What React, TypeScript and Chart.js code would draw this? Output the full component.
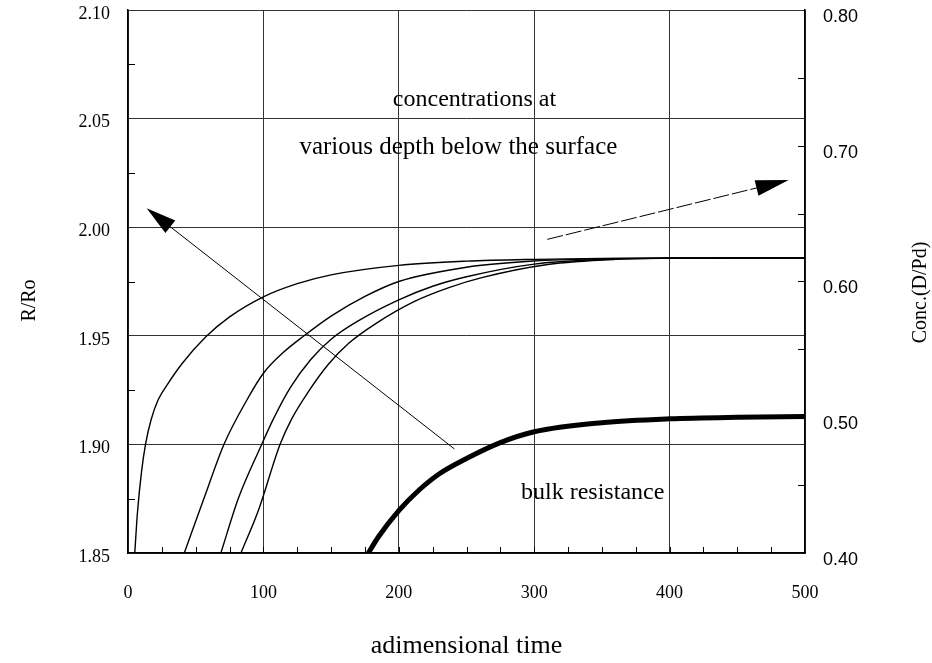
import React, { useEffect, useRef } from "react";
import { Chart, registerables } from "chart.js";

Chart.register(...registerables);

// ---- axis ranges / ticks ----
const xMin = 0;
const xMax = 500;
const xStep = 100;
const xMinorStep = 25;
const leftMin = 1.85;
const leftMax = 2.1;
const leftStep = 0.05;
const rightMin = 0.4;
const rightMax = 0.8;
const rightStep = 0.1;
const rightMinorStep = 0.05;

// ---- concentration curves (right axis, Conc.(D/Pd)) ----
const conc1X = [5, 7, 10, 13, 17, 22.2, 30, 40, 57.7, 75, 100, 125, 150, 200, 250, 300, 350, 400, 500];
const conc1Y = [0.4, 0.43, 0.46, 0.4803, 0.498, 0.5127, 0.5255, 0.5396, 0.5594, 0.5739, 0.5887, 0.5984, 0.6049, 0.6119, 0.615, 0.6163, 0.6169, 0.6171, 0.6173];

const conc2X = [41.6, 56.2, 71, 87.8, 100, 115, 130, 150, 175, 200, 250, 300, 350, 400, 500];
const conc2Y = [0.4, 0.4405, 0.4803, 0.5127, 0.5324, 0.548, 0.56, 0.5745, 0.589, 0.6, 0.6105, 0.6151, 0.6168, 0.6173, 0.6173];

const conc3X = [68.6, 81.6, 98.9, 107.5, 120, 135, 150, 170, 200, 225, 250, 300, 350, 400, 500];
const conc3Y = [0.4, 0.4405, 0.4803, 0.499, 0.522, 0.5425, 0.5575, 0.571, 0.5865, 0.5965, 0.6035, 0.6128, 0.6162, 0.6172, 0.6173];

const conc4X = [83.4, 96, 112.4, 121, 133, 148, 163, 183, 212, 237, 262, 310, 360, 410, 500];
const conc4Y = [0.4, 0.4305, 0.4803, 0.499, 0.5185, 0.539, 0.5545, 0.569, 0.5855, 0.5955, 0.603, 0.6125, 0.6163, 0.6172, 0.6173];

// ---- bulk resistance (left axis, R/Ro) ----
const bulkX = [177.5, 185, 200, 215, 230, 250, 275, 300, 350, 400, 450, 500];
const bulkY = [1.85, 1.8575, 1.8695, 1.879, 1.8865, 1.8935, 1.9008, 1.9058, 1.91, 1.9118, 1.9125, 1.9128];

// ---- annotations (data coords on x / left axis) ----
const arrow1Tail = [241.1, 1.8979];
const arrow1Tip = [13.8, 2.0087];
const arrow2Tail = [309.7, 1.9944];
const arrow2Tip = [487.9, 2.0217];
const labelTexts = ["concentrations at", "various depth below the surface", "bulk resistance"];
const labelSizes = [24, 25, 24];
const labelPos = [
  [255.9, 2.0586],
  [244, 2.0369],
  [343.2, 1.8776],
];

const SERIF = "'Liberation Serif', 'Times New Roman', serif";
const SANS = "'Liberation Sans', Arial, sans-serif";

const toPts = (xs: number[], ys: number[]) => xs.map((x, i) => ({ x, y: ys[i] }));

const overlayPlugin = {
  id: "overlay",
  afterDraw(chart: any) {
    const { ctx, chartArea, scales } = chart;
    const xs = scales.x;
    const yl = scales.y;
    const yr = scales.y1;
    ctx.save();
    ctx.strokeStyle = "#000";
    ctx.lineWidth = 1;
    // minor ticks (inward)
    ctx.beginPath();
    for (let v = xMin + xMinorStep; v < xMax; v += xMinorStep) {
      const px = Math.round(xs.getPixelForValue(v)) + 0.5;
      ctx.moveTo(px, chartArea.bottom);
      ctx.lineTo(px, chartArea.bottom - 6);
    }
    for (let v = leftMin + leftStep / 2; v < leftMax; v += leftStep) {
      const py = Math.round(yl.getPixelForValue(v)) + 0.5;
      ctx.moveTo(chartArea.left, py);
      ctx.lineTo(chartArea.left + 7, py);
    }
    for (let v = rightMin + rightMinorStep; v < rightMax - 0.001; v += rightMinorStep) {
      const py = Math.round(yr.getPixelForValue(v)) + 0.5;
      ctx.moveTo(chartArea.right, py);
      ctx.lineTo(chartArea.right - 7, py);
    }
    ctx.stroke();

    // arrows
    const drawArrow = (tail: number[], tip: number[], dash: number[], headLen: number, headHalf: number) => {
      const x0 = xs.getPixelForValue(tail[0]);
      const y0 = yl.getPixelForValue(tail[1]);
      const x1 = xs.getPixelForValue(tip[0]);
      const y1 = yl.getPixelForValue(tip[1]);
      const dx = x1 - x0;
      const dy = y1 - y0;
      const len = Math.hypot(dx, dy);
      const ux = dx / len;
      const uy = dy / len;
      ctx.setLineDash(dash);
      ctx.lineWidth = 1;
      ctx.beginPath();
      ctx.moveTo(x0, y0);
      ctx.lineTo(x1 - ux * headLen * 0.8, y1 - uy * headLen * 0.8);
      ctx.stroke();
      ctx.setLineDash([]);
      const bx = x1 - ux * headLen;
      const by = y1 - uy * headLen;
      ctx.beginPath();
      ctx.moveTo(x1, y1);
      ctx.lineTo(bx - uy * headHalf, by + ux * headHalf);
      ctx.lineTo(bx + uy * headHalf, by - ux * headHalf);
      ctx.closePath();
      ctx.fillStyle = "#000";
      ctx.fill();
    };
    drawArrow(arrow1Tail, arrow1Tip, [], 30, 8);
    drawArrow(arrow2Tail, arrow2Tip, [16, 3], 33, 8);

    // text labels
    ctx.fillStyle = "#000";
    ctx.textAlign = "center";
    ctx.textBaseline = "middle";
    labelTexts.forEach((t, i) => {
      ctx.font = `${labelSizes[i]}px ${SERIF}`;
      ctx.fillText(t, xs.getPixelForValue(labelPos[i][0]), yl.getPixelForValue(labelPos[i][1]));
    });

    // axis titles (vertical, reading bottom-to-top)
    const midY = (chartArea.top + chartArea.bottom) / 2;
    ctx.font = `20px ${SERIF}`;
    ctx.save();
    ctx.translate(30, midY + 19);
    ctx.rotate(-Math.PI / 2);
    ctx.fillText("R/Ro", 0, 0);
    ctx.restore();
    ctx.save();
    ctx.translate(chart.width - 11, midY + 11);
    ctx.rotate(-Math.PI / 2);
    ctx.fillText("Conc.(D/Pd)", 0, 0);
    ctx.restore();
    ctx.restore();
  },
};

export default function App() {
  const canvasRef = useRef<HTMLCanvasElement | null>(null);

  useEffect(() => {
    const canvas = canvasRef.current;
    if (!canvas) return;
    const lineDs = (label: string, xs: number[], ys: number[], axis: string, width: number) => ({
      label,
      data: toPts(xs, ys),
      yAxisID: axis,
      borderColor: "#000",
      backgroundColor: "#000",
      borderWidth: width,
      pointRadius: 0,
      cubicInterpolationMode: "monotone" as const,
      fill: false,
    });
    const chart = new Chart(canvas, {
      type: "line",
      data: {
        datasets: [
          lineDs("conc 1", conc1X, conc1Y, "y1", 1.4),
          lineDs("conc 2", conc2X, conc2Y, "y1", 1.4),
          lineDs("conc 3", conc3X, conc3Y, "y1", 1.4),
          lineDs("conc 4", conc4X, conc4Y, "y1", 1.4),
          lineDs("bulk resistance", bulkX, bulkY, "y", 5),
        ],
      },
      options: {
        animation: false,
        responsive: true,
        maintainAspectRatio: false,
        layout: { padding: { top: 10, left: 0, right: 0, bottom: 0 } },
        plugins: { legend: { display: false }, tooltip: { enabled: false } },
        scales: {
          x: {
            type: "linear",
            min: xMin,
            max: xMax,
            ticks: { stepSize: xStep, color: "#000", font: { size: 18, family: SERIF }, padding: 29 },
            grid: { color: "#333", lineWidth: 1, drawTicks: false },
            border: { display: true, color: "#000", width: 1.5 },
            title: {
              display: true,
              text: "adimensional time",
              color: "#000",
              font: { size: 26, family: SERIF },
              padding: { top: 0, bottom: 1 },
            },
            afterFit: (s: any) => {
              s.height = 110;
              s.paddingLeft = 0;
              s.paddingRight = 0;
            },
          },
          y: {
            position: "left",
            min: leftMin,
            max: leftMax,
            ticks: {
              stepSize: leftStep,
              color: "#000",
              font: { size: 18, family: SERIF },
              padding: 18,
              labelOffset: 4,
              callback: (v: any) => Number(v).toFixed(2),
            },
            grid: { color: "#333", lineWidth: 1, drawTicks: false },
            border: { display: true, color: "#000", width: 1.5 },
            afterFit: (s: any) => {
              s.width = 128;
              s.paddingTop = 0;
              s.paddingBottom = 0;
            },
          },
          y1: {
            position: "right",
            min: rightMin,
            max: rightMax,
            ticks: {
              stepSize: rightStep,
              color: "#000",
              font: { size: 18, family: SANS },
              padding: 18,
              labelOffset: 7,
              callback: (v: any) => Number(v).toFixed(2),
            },
            grid: { drawOnChartArea: false, drawTicks: false },
            border: { display: true, color: "#000", width: 1.5 },
            afterFit: (s: any) => {
              s.width = 127;
              s.paddingTop = 0;
              s.paddingBottom = 0;
            },
          },
        },
      },
      plugins: [overlayPlugin],
    });
    return () => chart.destroy();
  }, []);

  return (
    <div style={{ position: "absolute", left: 0, top: 0, width: 932, height: 663, background: "#fff" }}>
      <canvas ref={canvasRef} />
    </div>
  );
}
